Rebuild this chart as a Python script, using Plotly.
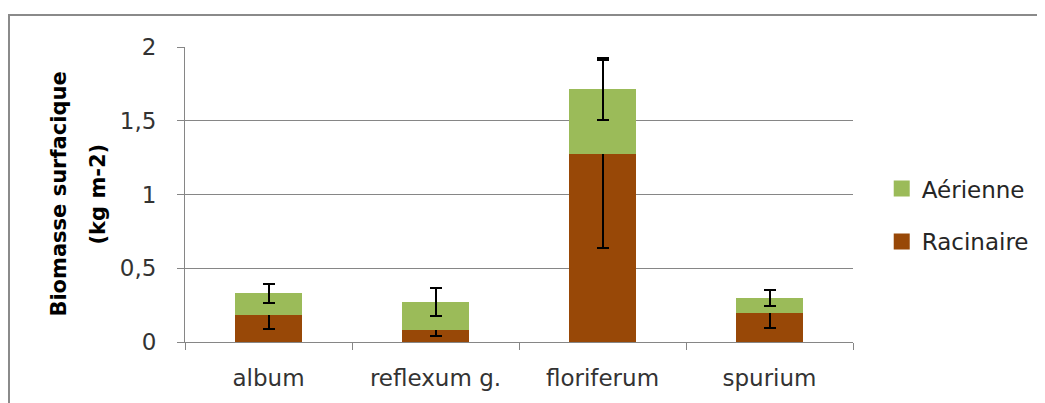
import plotly.graph_objects as go

# Données
especes = ['album', 'reflexum g.', 'floriferum', 'spurium']
racinaire = [0.183, 0.079, 1.277, 0.195]
aerienne = [0.147, 0.190, 0.436, 0.101]
err_racinaire = [0.092, 0.039, 0.637, 0.098]
err_aerienne = [0.065, 0.096, 0.210, 0.054]

couleur_rac = '#984807'
couleur_aer = '#9BBB59'
police = '"DejaVu Sans", sans-serif'

fig = go.Figure()
fig.add_trace(go.Bar(
    x=especes, y=racinaire, name='Racinaire',
    marker=dict(color=couleur_rac, line=dict(width=0)),
    error_y=dict(type='data', array=err_racinaire, color='black', thickness=2, width=6),
    showlegend=False,
))
fig.add_trace(go.Bar(
    x=especes, y=aerienne, name='Aérienne',
    marker=dict(color=couleur_aer, line=dict(width=0)),
    error_y=dict(type='data', array=err_aerienne, color='black', thickness=2, width=6),
    showlegend=False,
))
# entrées de légende (carrés plus grands)
for nom, coul, rang in [('Aérienne', couleur_aer, 1), ('Racinaire', couleur_rac, 2)]:
    fig.add_trace(go.Scatter(
        x=[None], y=[None], mode='markers', name=nom,
        marker=dict(symbol='square', size=16, color=coul),
        legendgroup=nom, legendrank=rang,
    ))

# titre de l'axe y en deux lignes espacées
for texte, xpos in [('<b>Biomasse surfacique</b>', -0.190), ('<b>(kg m-2)</b>', -0.1317)]:
    fig.add_annotation(
        text=texte, xref='paper', yref='paper', x=xpos, y=0.5,
        xanchor='center', yanchor='middle', textangle=-90, showarrow=False,
        font=dict(family=police, size=21, color='black'),
    )

fig.update_layout(
    barmode='stack',
    bargap=0.6,
    width=1045, height=403,
    margin=dict(l=177, r=200, t=39, b=69),
    paper_bgcolor='white',
    plot_bgcolor='white',
    font=dict(family=police, size=23, color='#333333'),
    legend=dict(
        x=1.043, y=0.43, xanchor='left', yanchor='middle',
        traceorder='grouped', tracegroupgap=20, itemsizing='trace',
        font=dict(size=23, color='#262626'),
    ),
    xaxis=dict(
        showline=True, linecolor='#868686', linewidth=1,
        ticks='outside', tickson='boundaries', ticklen=7, tickcolor='#868686',
        showgrid=False, ticklabelstandoff=15,
    ),
    yaxis=dict(
        range=[0, 2], dtick=0.5,
        showline=True, linecolor='#868686', linewidth=1,
        ticks='outside', ticklen=7, tickcolor='#868686',
        showgrid=True, gridcolor='#868686', gridwidth=1,
        zeroline=False, ticklabelstandoff=16,
    ),
    separators=', ',
    shapes=[dict(
        type='rect', xref='paper', yref='paper',
        x0=-0.2635, x1=1.6, y0=-0.6, y1=1.1085,
        line=dict(color='#8a8a8a', width=2), layer='below',
    )],
)

fig.write_html('out.html')
